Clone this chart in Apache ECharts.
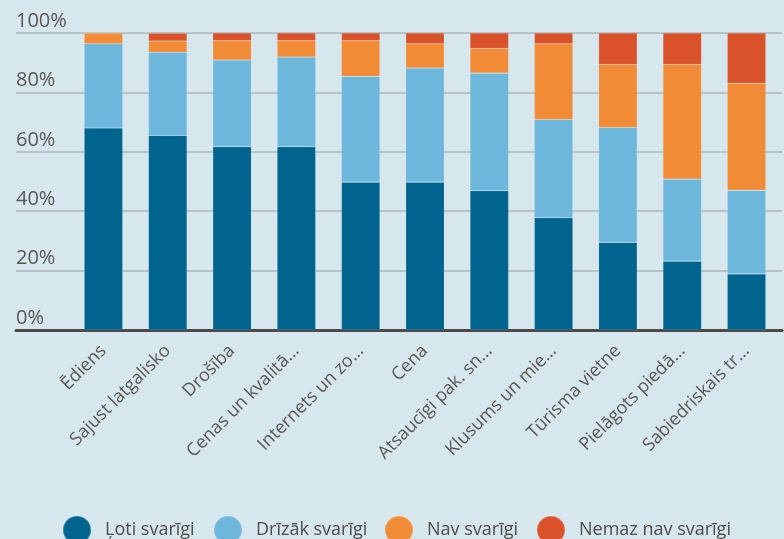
<!DOCTYPE html>
<html>
<head>
<meta charset="utf-8">
<script src="https://cdn.jsdelivr.net/npm/echarts@6/dist/echarts.min.js"></script>
<style>
  html, body { margin: 0; padding: 0; background: #d6e7ed; }
  #chart { width: 784px; height: 539px; }
</style>
</head>
<body>
<div id="chart"></div>
<script>
const categories = ["Ēdiens", "Sajust latgalisko", "Drošība", "Cenas un kvalitā…", "Internets un zo…", "Cena", "Atsaucīgi pak. sn…", "Klusums un mie…", "Tūrisma vietne", "Pielāgots piedā…", "Sabiedriskais tr…"];
const seriesNames = ["Ļoti svarīgi", "Drīzāk svarīgi", "Nav svarīgi", "Nemaz nav svarīgi"];
const lotiSvarigi = [68, 65.5, 61.7, 61.7, 49.8, 49.8, 46.9, 37.8, 29.5, 23.2, 18.9];
const drizakSvarigi = [28.4, 28, 29.2, 30.2, 35.6, 38.4, 39.6, 33.1, 38.7, 27.6, 28.1];
const navSvarigi = [3.6, 3.8, 6.5, 5.5, 12, 8.2, 8.3, 25.5, 21.2, 38.6, 36.1];
const nemazNavSvarigi = [0, 2.6, 2.6, 2.6, 2.6, 3.6, 5.2, 3.6, 10.6, 10.6, 16.9];
const yTicks = [0, 20, 40, 60, 80, 100];

const colors = ["#00658e", "#6db6dc", "#f18b35", "#da522a"];
const font = "Open Sans";
const textColor = "#5b5755";

const chart = echarts.init(document.getElementById("chart"));
const values = [lotiSvarigi, drizakSvarigi, navSvarigi, nemazNavSvarigi];
const legendLefts = [62, 213, 384, 536];

chart.setOption({
  backgroundColor: "#d6e7ed",
  animation: false,
  color: colors,
  grid: [
    { left: 16, right: 2, top: 33, bottom: 209 },
    { left: 71.3, right: 5.3, top: 33, bottom: 209 }
  ],
  legend: seriesNames.map((n, i) => ({
    data: [n],
    left: legendLefts[i],
    top: 515,
    padding: 0,
    icon: "circle",
    itemWidth: 28,
    itemHeight: 28,
    textStyle: { fontFamily: font, fontSize: 18, color: "#4f4c4b", padding: [0, 0, 0, 9] }
  })),
  xAxis: [
    {
      type: "value", gridIndex: 0, min: 0, max: 1,
      axisLine: { show: true, onZero: false, lineStyle: { color: "#4d4a49", width: 3 } },
      axisTick: { show: false }, axisLabel: { show: false }, splitLine: { show: false }
    },
    {
      type: "category", gridIndex: 1, data: categories,
      axisLine: { show: false }, axisTick: { show: false },
      axisLabel: {
        interval: 0, rotate: 45, margin: 18,
        fontFamily: font, fontSize: 18, color: textColor
      }
    }
  ],
  yAxis: [
    {
      type: "value", gridIndex: 0, min: 0, max: 100, interval: 20,
      axisLine: { show: false }, axisTick: { show: false },
      splitLine: { show: true, lineStyle: { color: "#b8c3c7", width: 2 } },
      axisLabel: {
        inside: true, margin: 0, verticalAlign: "bottom", padding: [0, 0, 2, 0],
        fontFamily: font, fontSize: 20, color: textColor,
        formatter: v => (yTicks.includes(v) ? v + "%" : "")
      }
    },
    {
      type: "value", gridIndex: 1, min: 0, max: 100,
      show: false
    }
  ],
  series: seriesNames.map((n, i) => ({
    name: n, type: "bar", stack: "total",
    xAxisIndex: 1, yAxisIndex: 1,
    barWidth: "60%",
    itemStyle: { borderColor: "rgba(255,255,255,0.18)", borderWidth: 0.6 },
    data: values[i]
  }))
});
</script>
</body>
</html>
